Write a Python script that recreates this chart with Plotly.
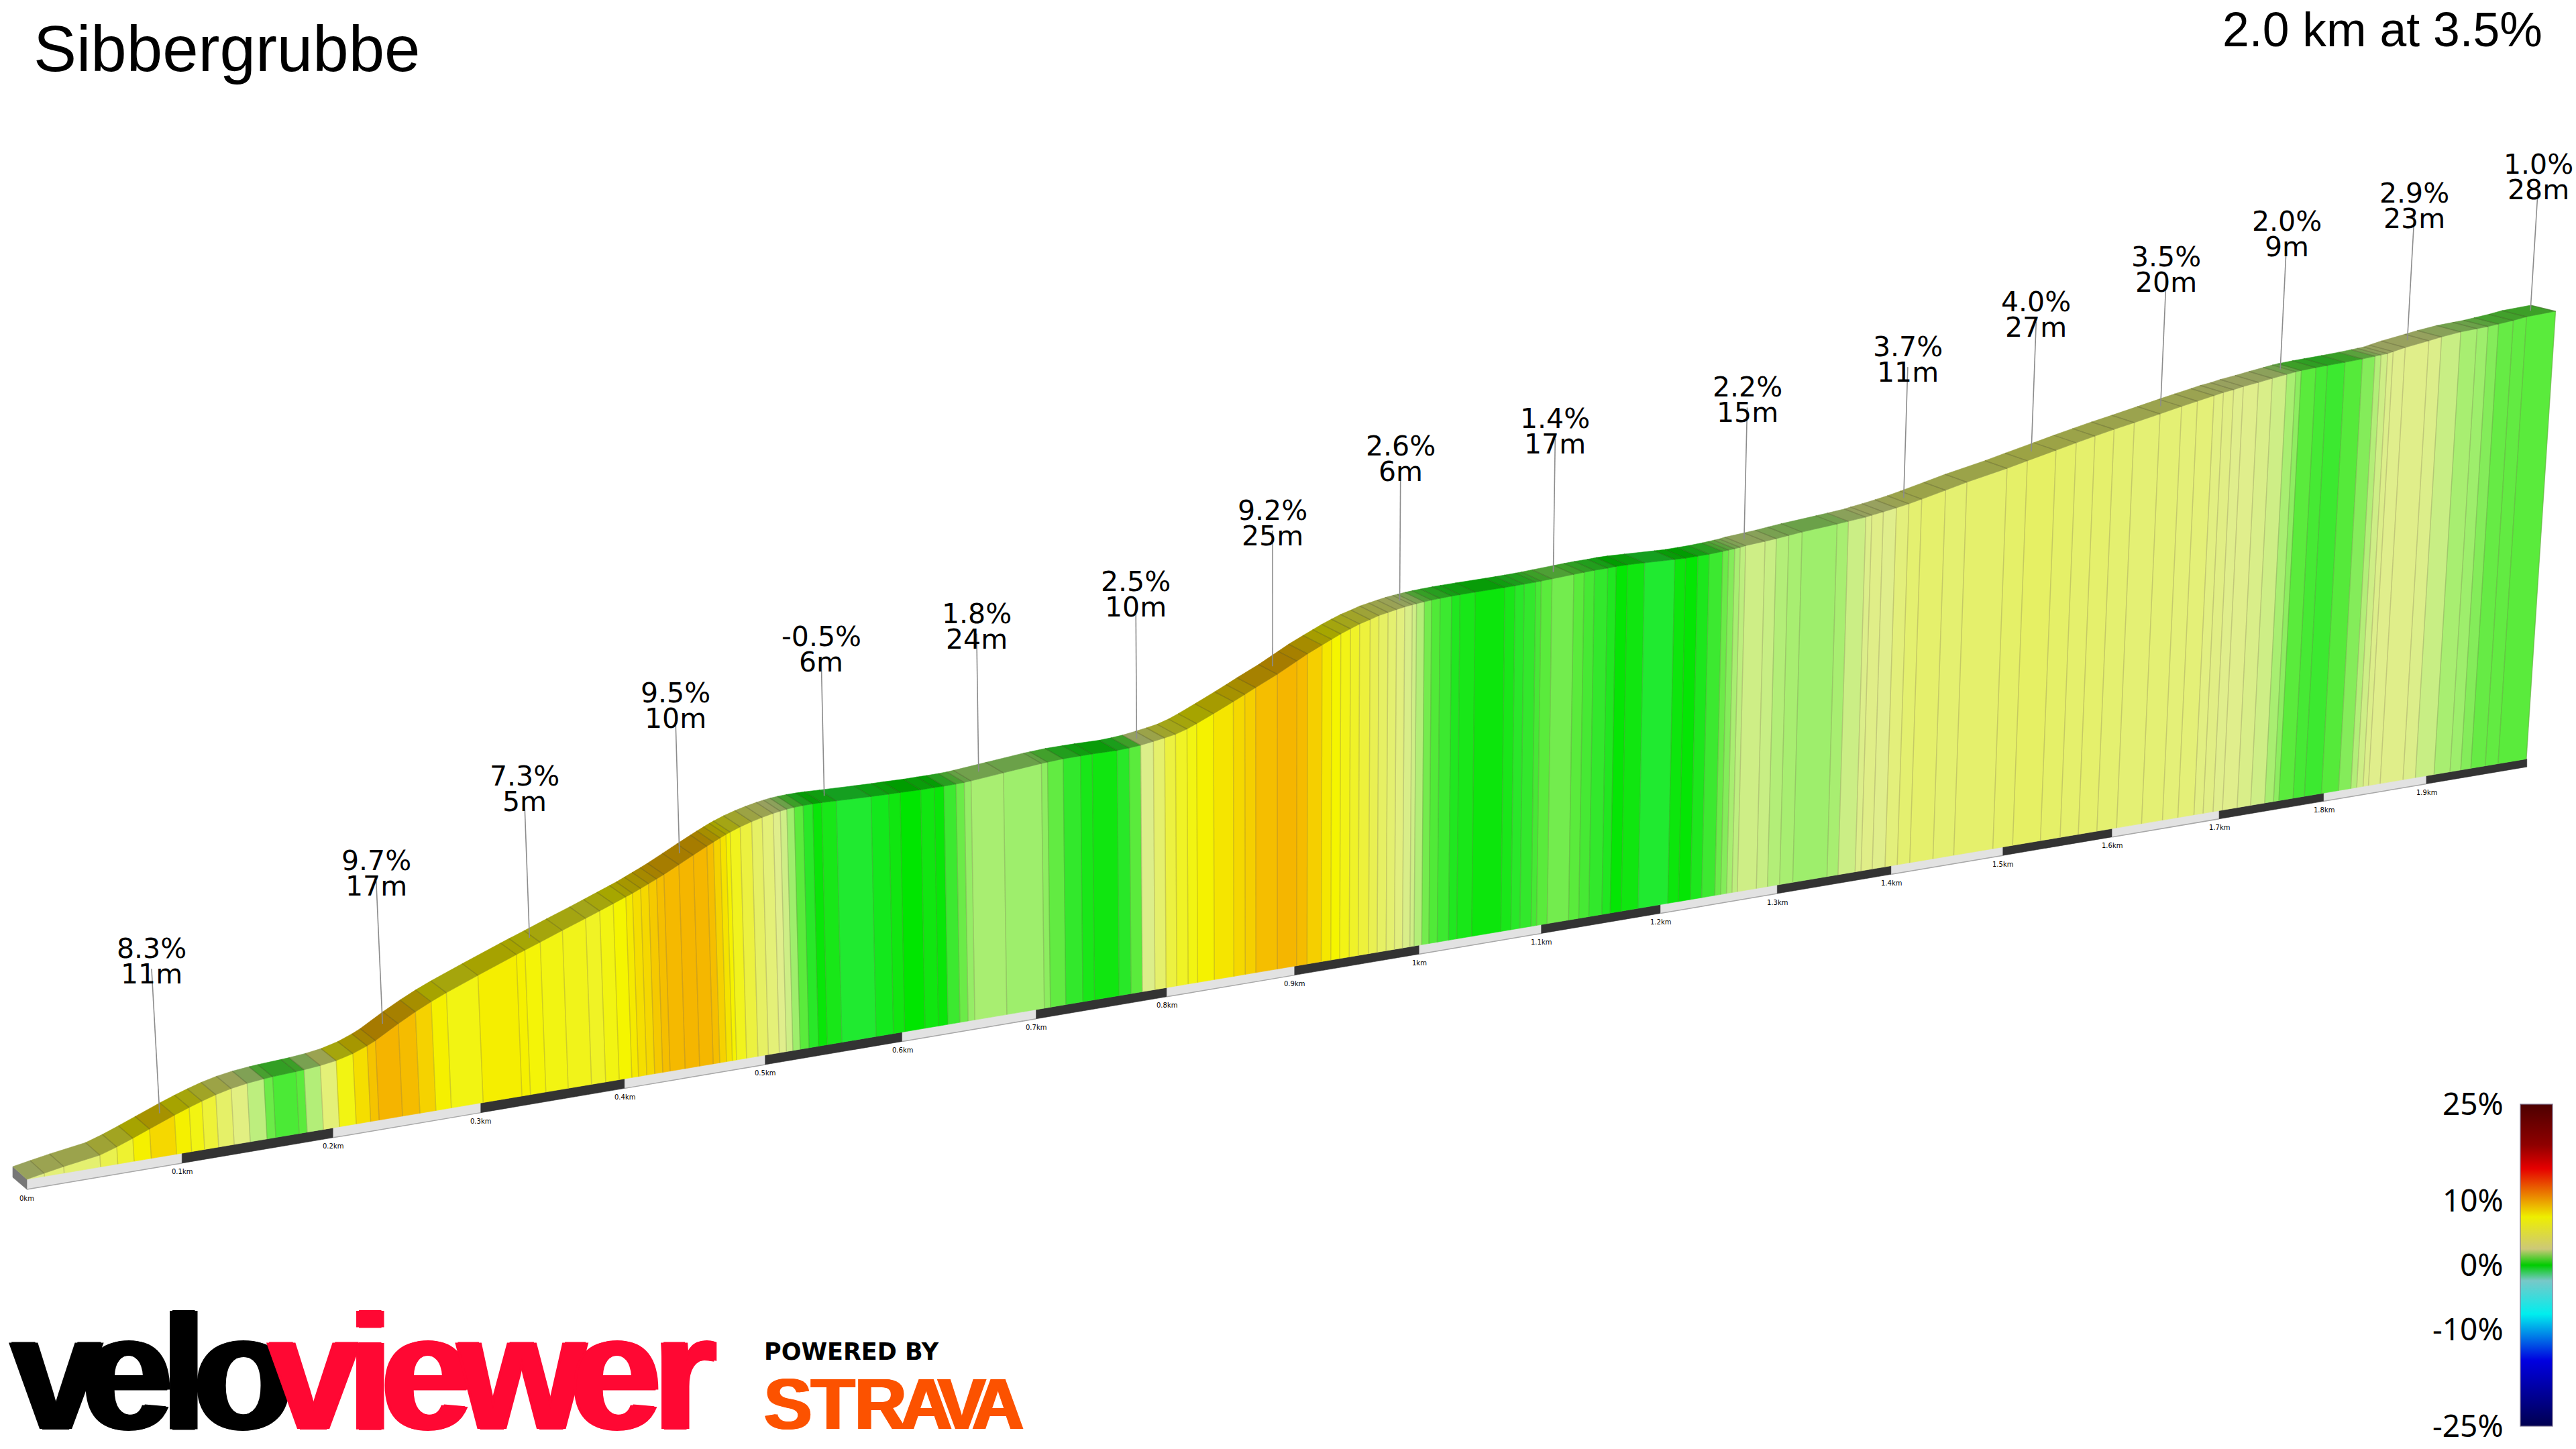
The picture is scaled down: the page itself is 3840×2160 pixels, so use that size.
import numpy as np
import plotly.graph_objects as go

# Climb profile, one entry per road section
distance_km = [
    0, .0112, .0238, .0472, .0583, .0689, .0800, .0965, .1063, .1148,
    .1240, .1342, .1448, .1559, .1617, .1772, .1826, .1934, .2041, .2154,
    .2251, .2308, .2466, .2584, .2693, .2798, .3016, .3283, .3342, .3449,
    .3604, .3767, .3866, .3961, .4050, .4097, .4155, .4211, .4268, .4320,
    .4427, .4530, .4627, .4674, .4722, .4764, .4794, .4866, .4948, .5023,
    .5102, .5153, .5200, .5253, .5317, .5386, .5450, .5556, .5807, .5935,
    .6018, .6168, .6268, .6339, .6428, .6489, .6539, .6779, .7062, .7108,
    .7225, .7355, .7444, .7632, .7724, .7811, .7908, .7994, .8077, .8165,
    .8239, .8369, .8522, .8611, .8695, .8864, .9016, .9099, .9212, .9288,
    .9359, .9435, .9507, .9590, .9659, .9731, .9798, .9863, .9923, .9957,
    1.0019, 1.0077, 1.0145, 1.0237, 1.0304, 1.0426, 1.0665, 1.0748, 1.0822, 1.0915,
    1.0960, 1.1048, 1.1226, 1.1311, 1.1395, 1.1504, 1.1574, 1.1667, 1.1809, 1.2061,
    1.2152, 1.2253, 1.2349, 1.2462, 1.2512, 1.2563, 1.2609, 1.2655, 1.2819, 1.2915,
    1.3020, 1.3134, 1.3433, 1.3530, 1.3680, 1.3732, 1.3831, 1.3944, 1.4052, 1.4163,
    1.4370, 1.4556, 1.4908, 1.5087, 1.5340, 1.5520, 1.5687, 1.5858, 1.6040, 1.6272,
    1.6467, 1.6611, 1.6762, 1.6848, 1.6942, 1.7031, 1.7170, 1.7298, 1.7432, 1.7516,
    1.7567, 1.7704, 1.7812, 1.7977, 1.8142, 1.8261, 1.8318, 1.8380, 1.8432, 1.8546,
    1.8770, 1.8891, 1.9075, 1.9233, 1.9339, 1.9440, 1.9583, 1.9711, 1.9995,
]
elevation_m = [
    0, .39, .81, 1.48, 2.15, 2.90, 3.72, 4.93, 5.60, 6.13,
    6.66, 7.12, 7.45, 7.67, 7.76, 7.93, 8.00, 8.20, 8.50, 9.05,
    9.75, 10.25, 11.95, 13.12, 14.10, 14.95, 16.55, 18.46, 18.87, 19.60,
    20.69, 21.80, 22.49, 23.17, 23.81, 24.15, 24.62, 25.08, 25.55, 26.00,
    27.00, 27.98, 28.88, 29.30, 29.72, 30.07, 30.30, 30.80, 31.27, 31.63,
    31.95, 32.12, 32.25, 32.35, 32.42, 32.45, 32.45, 32.40, 32.30, 32.27,
    32.27, 32.24, 32.27, 32.28, 32.32, 32.38, 32.46, 32.91, 33.44, 33.50,
    33.65, 33.70, 33.73, 33.73, 33.83, 33.98, 34.25, 34.51, 34.80, 35.30,
    35.85, 36.90, 38.18, 38.95, 39.70, 41.14, 42.60, 43.40, 44.35, 44.98,
    45.56, 46.10, 46.60, 47.02, 47.42, 47.68, 47.93, 48.15, 48.30, 48.38,
    48.50, 48.60, 48.68, 48.78, 48.83, 48.90, 49.00, 49.05, 49.10, 49.17,
    49.22, 49.33, 49.55, 49.65, 49.74, 49.80, 49.88, 49.90, 49.86, 49.76,
    49.74, 49.80, 49.86, 50.00, 50.08, 50.17, 50.25, 50.40, 50.66, 50.83,
    51.06, 51.30, 51.80, 51.98, 52.26, 52.43, 52.70, 53.04, 53.40, 53.84,
    54.70, 55.49, 56.78, 57.53, 58.56, 59.30, 59.96, 60.61, 61.24, 62.09,
    62.81, 63.32, 63.84, 64.15, 64.38, 64.69, 65.03, 65.39, 65.73, 65.95,
    66.05, 66.23, 66.34, 66.50, 66.69, 66.87, 66.96, 67.05, 67.25, 67.66,
    68.27, 68.63, 69.05, 69.25, 69.38, 69.58, 69.86, 70.19, 70.52,
]
# gradient of the section that ends at the same index of distance_km
gradient_pct = [
    3.0, 3.5, 3.7, 4.5, 5.2, 7, 8.3, 7, 6, 5,
    3.9, 3.2, 2.1, 1.2, .85, 1, 2, 3.5, 6, 8,
    9, 10, 9.3, 8.5, 7, 6, 7.2, 7, 6.3, 6,
    5.8, 5.5, 6, 6.5, 7.5, 8, 8.3, 8.8, 9.2, 9.6,
    9.8, 9.7, 9.2, 8.5, 7.8, 6.8, 5.7, 4.8, 4, 3.5,
    2.9, 2.4, 1.8, 1, .5, .1, .3, -.5, -.3, .2,
    0, .2, .1, .7, 1.2, 1.7, 1.9, 1.8, 1.6, 1.1,
    .6, .3, .2, .5, 1, 2.8, 3.8, 4.8, 5.5, 6,
    6.8, 7.7, 8.3, 8.6, 9.2, 9.8, 9.3, 8.6, 7.6, 6.5,
    5.9, 5.4, 4.9, 4.4, 4, 3.7, 3.3, 2.7, 2.4, 2,
    1.3, .9, .7, .4, .3, .15, .3, .5, .6, .8,
    1, 1.3, 1, .8, .6, .4, .05, .2, -.5, .15,
    .05, .35, .7, 1.2, 1.5, 1.9, 2.1, 2.4, 2.2, 2,
    1.9, 1.8, 1.9, 2.3, 2.8, 3, 2.9, 3.4, 3.7, 3.8,
    3.7, 3.8, 3.9, 4, 3.9, 3.8, 3.8, 3.7, 3.6, 3.6,
    3.5, 3.5, 3.2, 3.1, 2.9, 2.9, 2.7, 2.4, 1.9, 1.6,
    1, .8, .7, .95, 1.5, 2, 2.4, 2.8, 2.9, 2.95,
    2.8, 2.2, 1.9, 1.8, 1.5, 1.15, 1.1, 1,
]

label_km = [.0915, .241, .343, .449, .553, .666, .785, .890, .990, 1.114,
            1.273, 1.41, 1.522, 1.638, 1.748, 1.868, 1.987]
label_grade = ["8.3%", "9.7%", "7.3%", "9.5%", "-0.5%", "1.8%", "2.5%", "9.2%", "2.6%",
               "1.4%", "2.2%", "3.7%", "4.0%", "3.5%", "2.0%", "2.9%", "1.0%"]
label_length = ["11m", "17m", "5m", "10m", "6m", "24m", "10m", "25m", "6m",
                "17m", "15m", "11m", "27m", "20m", "9m", "23m", "28m"]

tick_km = [0, .1, .2, .3, .4, .5, .6, .7, .8, .9, 1, 1.1, 1.2, 1.3, 1.4, 1.5, 1.6, 1.7, 1.8, 1.9]
tick_labels = ["0km", "0.1km", "0.2km", "0.3km", "0.4km", "0.5km", "0.6km", "0.7km", "0.8km", "0.9km",
               "1km", "1.1km", "1.2km", "1.3km", "1.4km", "1.5km", "1.6km", "1.7km", "1.8km", "1.9km"]
total_km = 2.0

scale_values = [25, 10, 0, -10, -25]
scale_labels = ["25%", "10%", "0%", "-10%", "-25%"]

# wall colour by gradient
WALL_STOPS = [(-.5, "#20EA30"), (0, "#00E600"), (.5, "#28E828"), (1, "#5AEB3C"), (1.8, "#9EEE6C"),
              (2.2, "#C8EE84"), (2.9, "#E0EE8C"), (3.5, "#E4F078"), (4, "#E6F064"), (5, "#EEF238"),
              (6.5, "#F5F500"), (7.3, "#F5EE00"), (8.3, "#F5D800"), (9.2, "#F5BE00"), (10, "#F5B400")]
BAR_SCALE = [(-25, "#000050"), (-14.8, "#0000E0"), (-7.6, "#00EEEE"), (-2.4, "#78C8C8"), (0, "#00CC00"),
             (2.5, "#CCC878"), (7.5, "#EEEE00"), (15, "#E60000"), (18.7, "#8F0000"), (25, "#4D0000")]

# perspective of the 3d view, in page pixels
DEPTH = .1287
KM_PX = 2343
SLOPE = .169
M_PX = 11.9
LEAN = 3.5e-5
LEAN_X = 1900


def base_x(d):
    return 40 + KM_PX * d / (1 + DEPTH * d)


def base_y(d):
    return 1773 - SLOPE * (base_x(d) - 40)


def strip_h(d):
    return 15 / (1 + DEPTH * d)


def wall_bottom(d):
    return base_x(d), base_y(d) - strip_h(d)


def top_point(d, e, lift=0):
    h = (e * M_PX + lift) / (1 + DEPTH * d)
    bx = base_x(d)
    return bx + h * LEAN * (bx - LEAN_X), base_y(d) - strip_h(d) - h


def depth_offset(d):
    return -(21 + 8 * d), -(19 - 5 * d)


def hex_rgb(c):
    return [int(c[i:i + 2], 16) for i in (1, 3, 5)]


def wall_rgb(g):
    xs = [s[0] for s in WALL_STOPS]
    chans = np.array([hex_rgb(s[1]) for s in WALL_STOPS])
    return [float(np.interp(g, xs, chans[:, i])) for i in range(3)]


def css(rgb, k=1.0):
    return "rgb(%d,%d,%d)" % tuple(int(v * k) for v in rgb)


def poly(fig, xs, ys, color, line=None, width=.6):
    fig.add_trace(go.Scatter(
        x=xs + xs[:1], y=ys + ys[:1], mode="lines", fill="toself", fillcolor=color,
        line=dict(color=line or color, width=width), hoverinfo="skip", showlegend=False,
    ))


def text(fig, s, x, y, size, color="#000000", family="DejaVu Sans", anchor="center", shadow=None, bold=False):
    font = dict(family=family, size=size, color=color)
    if shadow:
        font["shadow"] = shadow
    if bold:
        font["weight"] = 700
    fig.add_annotation(x=x, y=y, xref="x", yref="y", text=s, showarrow=False, font=font,
                       xanchor=anchor, yanchor="middle", borderpad=0)


fig = go.Figure()

# distance strip along the foot of the wall
strip_km = tick_km + [total_km]
for i in range(len(tick_km)):
    a, b = strip_km[i], strip_km[i + 1]
    color = "#333333" if i % 2 else "#E2E2E2"
    poly(fig,
         [base_x(a), base_x(b), base_x(b), base_x(a)],
         [base_y(a) - strip_h(a), base_y(b) - strip_h(b), base_y(b), base_y(a)],
         color, line="#333333" if i % 2 else "#D8D8D8")
    if not i % 2:
        fig.add_trace(go.Scatter(x=[base_x(a), base_x(b)], y=[base_y(a), base_y(b)], mode="lines",
                                 line=dict(color="#A8A8A8", width=1.5), hoverinfo="skip", showlegend=False))
    text(fig, tick_labels[i], base_x(a), base_y(a) + 13, 10)

# end face of the block at the start of the climb
ox, oy = depth_offset(0)
poly(fig,
     [base_x(0) + ox, base_x(0), base_x(0), base_x(0) + ox],
     [base_y(0) - strip_h(0) + oy, base_y(0) - strip_h(0), base_y(0), base_y(0) + oy + 1],
     "#777777")

# wall and road surface, one panel per section
sep_x, sep_y, road_x, road_y = [], [], [], []
for i in range(len(gradient_pct)):
    d0, d1 = distance_km[i], distance_km[i + 1]
    t0 = top_point(d0, elevation_m[i])
    t1 = top_point(d1, elevation_m[i + 1])
    b0 = wall_bottom(d0)
    b1 = wall_bottom(d1)
    rgb = wall_rgb(gradient_pct[i])
    poly(fig, [t0[0], t1[0], b1[0], b0[0]], [t0[1], t1[1], b1[1], b0[1]], css(rgb))
    o0 = depth_offset(d0)
    o1 = depth_offset(d1)
    poly(fig,
         [t0[0], t1[0], t1[0] + o1[0], t0[0] + o0[0]],
         [t0[1], t1[1], t1[1] + o1[1], t0[1] + o0[1]],
         css(rgb, .68))
    sep_x += [t1[0], b1[0], None]
    sep_y += [t1[1], b1[1], None]
    road_x += [t1[0], t1[0] + o1[0], None]
    road_y += [t1[1], t1[1] + o1[1], None]

fig.add_trace(go.Scatter(x=sep_x, y=sep_y, mode="lines", line=dict(color="rgba(110,100,70,0.28)", width=1.5),
                         hoverinfo="skip", showlegend=False))
fig.add_trace(go.Scatter(x=road_x, y=road_y, mode="lines", line=dict(color="rgba(60,60,30,0.28)", width=1.5),
                         hoverinfo="skip", showlegend=False))

# leader lines and their two line labels
lead_x, lead_y = [], []
for i, d in enumerate(label_km):
    e = float(np.interp(d, distance_km, elevation_m))
    fx, fy = top_point(d, e)
    ox, oy = depth_offset(d)
    lx, ly = top_point(d, e, lift=209 * (1 + .04 * d))
    lead_x += [fx + ox * .5, lx + ox * .5, None]
    lead_y += [fy + oy * .5, ly + oy * .5 - 8, None]
    text(fig, label_grade[i], lx + ox * .5, ly + oy * .5 - 38, 41)
    text(fig, label_length[i], lx + ox * .5, ly + oy * .5, 41)
fig.add_trace(go.Scatter(x=lead_x, y=lead_y, mode="lines", line=dict(color="#8C8C8C", width=1.6),
                         hoverinfo="skip", showlegend=False))

# gradient scale
span = BAR_SCALE[-1][0] - BAR_SCALE[0][0]
fig.add_trace(go.Scatter(
    x=[-500], y=[-500], mode="markers", hoverinfo="skip", showlegend=False,
    marker=dict(
        color=[0], cmin=-25, cmax=25, showscale=True,
        colorscale=[[(v - BAR_SCALE[0][0]) / span, c] for v, c in BAR_SCALE],
        colorbar=dict(
            x=3757 / 3840, xanchor="left", xpad=0, y=1 - 1646 / 2160, yanchor="top", ypad=0,
            lenmode="pixels", len=480, thicknessmode="pixels", thickness=48,
            outlinecolor="rgba(130,120,150,0.8)", outlinewidth=1.5, ticks="", showticklabels=False,
        ),
    ),
))
for v, s in zip(scale_values, scale_labels):
    text(fig, s, 3733, 1646 + (25 - v) / 50 * 480 - 2, 46, family="Noto Sans", anchor="right")

# titles
text(fig, "Sibbergrubbe", 49, 72, 96, family="Liberation Sans", anchor="left")
text(fig, "2.0 km at 3.5%", 3791, 44, 71.5, family="Liberation Sans", anchor="right")

# logos
HEAVY = "4px 0 0 {c}, -4px 0 0 {c}, 0 1px 0 {c}, 0 -1px 0 {c}"
for ch, x, c in zip("veloviewer", [84, 190, 274, 362, 468, 552, 636, 778, 918, 1020],
                    ["#000000"] * 4 + ["#FF0833"] * 6):
    text(fig, ch, x, 2045, 244, color=c, family="Liberation Sans", bold=True, shadow=HEAVY.format(c=c))
text(fig, "POWERED BY", 1269, 2015, 35, family="DejaVu Sans", bold=True)
for ch, x in zip("STRAVA", [1174, 1241, 1312, 1380, 1433, 1487]):
    text(fig, ch, x, 2093, 107, color="#FC5200", family="Liberation Sans", bold=True,
         shadow="2px 0 0 #FC5200, -2px 0 0 #FC5200")

fig.update_layout(
    width=3840, height=2160, margin=dict(l=0, r=0, t=0, b=0, autoexpand=False),
    paper_bgcolor="#FFFFFF", plot_bgcolor="#FFFFFF", showlegend=False,
    xaxis=dict(range=[0, 3840], visible=False, fixedrange=True),
    yaxis=dict(range=[2160, 0], visible=False, fixedrange=True),
)
fig.write_html("out.html", config={"displayModeBar": False}, post_script="document.body.style.margin='0';")
